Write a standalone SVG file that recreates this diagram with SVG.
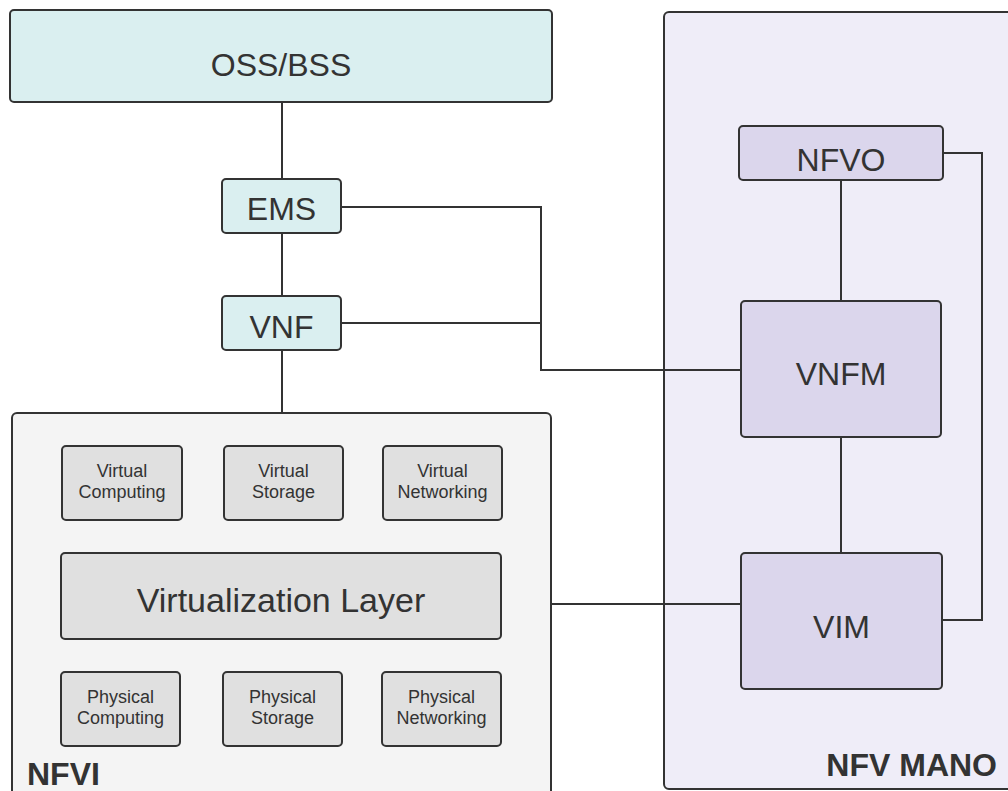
<svg xmlns="http://www.w3.org/2000/svg" width="1008" height="791" viewBox="0 0 1008 791">
<style>
  .box { stroke: #333333; stroke-width: 2; }
  .cyan { fill: #daeff0; }
  .grey-c { fill: #f4f4f4; }
  .grey { fill: #e0e0e0; }
  .lav-c { fill: #efedf8; }
  .lav { fill: #dbd6ec; }
  .lbl { font-family: "Liberation Sans", Arial, sans-serif; fill: #333333; text-anchor: middle; }
  .big { font-size: 32px; }
  .small { font-size: 18px; }
  .title { font-family: "Liberation Sans", Arial, sans-serif; fill: #333333; font-size: 32px; font-weight: bold; }
  .conn { fill: none; stroke: #333333; stroke-width: 2; }
</style>
<rect width="1008" height="791" fill="#ffffff"/>

<g id="nfv-mano">
  <rect class="box lav-c" x="664" y="12" width="360" height="777" rx="5"/>
  <text class="title" x="997" y="776" text-anchor="end">NFV MANO</text>
</g>
<g id="nfvi">
  <rect class="box grey-c" x="12" y="413" width="539" height="400" rx="5"/>
  <text class="title" x="27" y="785">NFVI</text>
</g>

<g id="connectors">
  <path class="conn" d="M282 102 V179"/>
  <path class="conn" d="M282 233 V296"/>
  <path class="conn" d="M282 350 V413"/>
  <path class="conn" d="M341 207 H541 V370 H741"/>
  <path class="conn" d="M341 323 H541"/>
  <path class="conn" d="M841 180 V301"/>
  <path class="conn" d="M841 437 V553"/>
  <path class="conn" d="M944 153 H982 V620 H942"/>
  <path class="conn" d="M551 604 H741"/>
</g>

<g id="oss-bss">
  <rect class="box cyan" x="10" y="10" width="542" height="92" rx="4"/>
  <text class="lbl big" x="281" y="76">OSS/BSS</text>
</g>
<g id="ems">
  <rect class="box cyan" x="222" y="179" width="119" height="54" rx="4"/>
  <text class="lbl big" x="281.5" y="220">EMS</text>
</g>
<g id="vnf">
  <rect class="box cyan" x="222" y="296" width="119" height="54" rx="4"/>
  <text class="lbl big" x="281.5" y="338">VNF</text>
</g>

<g id="virtual-computing">
  <rect class="box grey" x="62" y="446" width="120" height="74" rx="4"/>
  <text class="lbl small" x="122" y="477">Virtual</text>
  <text class="lbl small" x="122" y="498">Computing</text>
</g>
<g id="virtual-storage">
  <rect class="box grey" x="224" y="446" width="119" height="74" rx="4"/>
  <text class="lbl small" x="283.5" y="477">Virtual</text>
  <text class="lbl small" x="283.5" y="498">Storage</text>
</g>
<g id="virtual-networking">
  <rect class="box grey" x="383" y="446" width="119" height="74" rx="4"/>
  <text class="lbl small" x="442.5" y="477">Virtual</text>
  <text class="lbl small" x="442.5" y="498">Networking</text>
</g>
<g id="virtualization-layer">
  <rect class="box grey" x="61" y="553" width="440" height="86" rx="4"/>
  <text class="lbl" x="281" y="612" font-size="34">Virtualization Layer</text>
</g>
<g id="physical-computing">
  <rect class="box grey" x="61" y="672" width="119" height="74" rx="4"/>
  <text class="lbl small" x="120.5" y="703">Physical</text>
  <text class="lbl small" x="120.5" y="724">Computing</text>
</g>
<g id="physical-storage">
  <rect class="box grey" x="223" y="672" width="119" height="74" rx="4"/>
  <text class="lbl small" x="282.5" y="703">Physical</text>
  <text class="lbl small" x="282.5" y="724">Storage</text>
</g>
<g id="physical-networking">
  <rect class="box grey" x="382" y="672" width="119" height="74" rx="4"/>
  <text class="lbl small" x="441.5" y="703">Physical</text>
  <text class="lbl small" x="441.5" y="724">Networking</text>
</g>

<g id="nfvo">
  <rect class="box lav" x="739" y="126" width="204" height="54" rx="4"/>
  <text class="lbl big" x="841" y="171">NFVO</text>
</g>
<g id="vnfm">
  <rect class="box lav" x="741" y="301" width="200" height="136" rx="4"/>
  <text class="lbl big" x="841" y="385">VNFM</text>
</g>
<g id="vim">
  <rect class="box lav" x="741" y="553" width="201" height="136" rx="4"/>
  <text class="lbl big" x="841.5" y="638">VIM</text>
</g>
</svg>
